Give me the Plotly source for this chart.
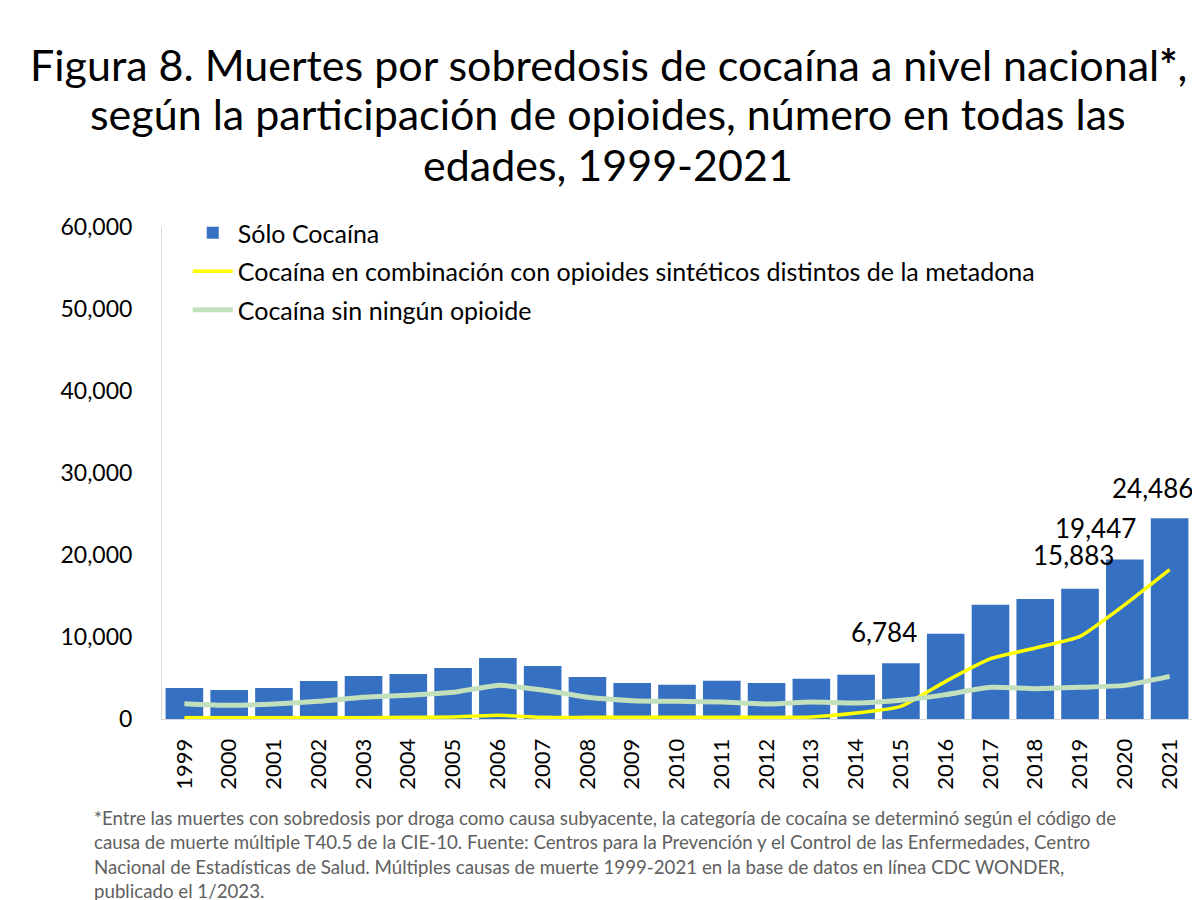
import plotly.graph_objects as go

years = [str(y) for y in range(1999, 2022)]
solo_cocaina = [3780, 3540, 3780, 4630, 5240, 5490, 6220, 7440, 6460, 5120, 4390, 4180,
                4670, 4390, 4920, 5410, 6784, 10400, 13940, 14630, 15883, 19447, 24486]
con_sinteticos = [150, 150, 150, 150, 150, 200, 250, 450, 200, 200, 200, 200,
                  200, 200, 250, 730, 1540, 4590, 7350, 8660, 10080, 13940, 18210]
sin_opioide = [1870, 1670, 1830, 2150, 2640, 2890, 3250, 4100, 3540, 2640, 2240, 2150,
               2070, 1830, 2070, 1950, 2280, 2970, 3860, 3700, 3860, 4100, 5200]
labeled_years = ["2015", "2019", "2020", "2021"]
label_shift = {"2015": (-17, 13), "2019": (-7, 16), "2020": (-29, 14), "2021": (-17, 12)}
y_ticks = [0, 10000, 20000, 30000, 40000, 50000, 60000]

title_lines = ["Figura 8. Muertes por sobredosis de cocaína a nivel nacional<b>*</b>,",
               "según la participación de opioides, número en todas las",
               "edades, 1999-2021"]
footnote = ("*Entre las muertes con sobredosis por droga como causa subyacente, la categoría de cocaína se determinó según el código de<br>"
            "causa de muerte múltiple T40.5 de la CIE-10. Fuente: Centros para la Prevención y el Control de las Enfermedades, Centro<br>"
            "Nacional de Estadísticas de Salud. Múltiples causas de muerte 1999-2021 en la base de datos en línea CDC WONDER,<br>"
            "publicado el 1/2023.")

FONT = "Lato"
W, H = 1200, 900
ML, MR, MT, MB = 154, 16, 219, 189
PW, PH = W - ML - MR, H - MT - MB


def px_x(x):
    return (x - ML) / PW


def px_y(y):
    return (H - MB - y) / PH


fig = go.Figure()
fig.add_trace(go.Bar(x=years, y=solo_cocaina, name="Sólo Cocaína", legendgroup="a",
                     marker=dict(color="#3670c2", line=dict(width=0))))
fig.add_trace(go.Scatter(x=years, y=con_sinteticos, mode="lines", legendgroup="b",
                         name="Cocaína en combinación con opioides sintéticos distintos de la metadona",
                         line=dict(color="#ffff00", width=3.5, shape="spline", smoothing=0.5)))
fig.add_trace(go.Scatter(x=years, y=sin_opioide, mode="lines", legendgroup="c",
                         name="Cocaína sin ningún opioide",
                         line=dict(color="#c3e0bd", width=5, shape="spline", smoothing=0.5)))

for yr in labeled_years:
    i = years.index(yr)
    v = solo_cocaina[i]
    dx, dy = label_shift[yr]
    fig.add_annotation(x=i, y=v, text=f"{v:,}", showarrow=False, yanchor="bottom",
                       xshift=dx, yshift=dy, font=dict(family=FONT, size=26, color="black"))

for k, line in enumerate(title_lines):
    fig.add_annotation(x=px_x(600), y=px_y(56 + 50 * k), xref="paper", yref="paper", text=line,
                       showarrow=False, xanchor="center", yanchor="middle",
                       font=dict(family=FONT, size=43, color="black"))

fig.add_annotation(x=px_x(84), y=px_y(797), xref="paper", yref="paper", text=footnote,
                   showarrow=False, xanchor="left", yanchor="top", align="left",
                   font=dict(family=FONT, size=18.7, color="#606060"))

fig.update_layout(
    width=W, height=H,
    paper_bgcolor="white", plot_bgcolor="white",
    margin=dict(l=ML, r=MR, t=MT, b=MB),
    font=dict(family=FONT, color="black"),
    bargap=0.16,
    showlegend=True,
    legend=dict(x=0.025, y=px_y(202), xanchor="left", yanchor="top",
                font=dict(family=FONT, size=25, color="black"),
                bgcolor="rgba(0,0,0,0)", tracegroupgap=3, itemwidth=40),
    xaxis=dict(type="category", range=[-0.5, len(years) - 0.5], tickangle=-90,
               tickfont=dict(family=FONT, size=22), ticklabelstandoff=10,
               showline=True, linecolor="#d9d9d9", linewidth=1, ticks="", showgrid=False),
    yaxis=dict(range=[0, 60000], tickvals=y_ticks, tickformat=",", showgrid=False,
               tickfont=dict(family=FONT, size=23), showline=True, linecolor="#d9d9d9",
               ticks="", ticklabelstandoff=24, zeroline=False),
)

fig.write_html("out.html")
